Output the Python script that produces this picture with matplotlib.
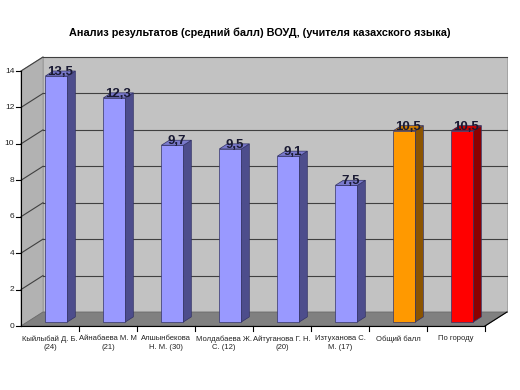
import matplotlib
matplotlib.use("Agg")
from matplotlib import pyplot as plt
from matplotlib.patches import Polygon

plt.rcParams['font.family'] = ['Liberation Sans', 'DejaVu Sans']

names = ["Кыйлыбай Д. Б.\n(24)", "Айнабаева М. М\n(21)", "Алшынбекова\nН. М. (30)",
         "Молдабаева Ж.\nС. (12)", "Айтуганова Г. Н.\n(20)", "Изтуханова С.\nМ. (17)",
         "Общий балл", "По городу"]
values = [13.5, 12.3, 9.7, 9.5, 9.1, 7.5, 10.5, 10.5]
labels = ["13,5", "12,3", "9,7", "9,5", "9,1", "7,5", "10,5", "10,5"]
fronts = ["#9999ff"] * 6 + ["#ff9900", "#ff0000"]
sides = ["#4d4d8c"] * 6 + ["#8c5400", "#8c0000"]
tops = ["#7a7acc"] * 6 + ["#cc7a00", "#cc0000"]
yticks = [0, 2, 4, 6, 8, 10, 12, 14]

W, H = 520, 390
fig = plt.figure(figsize=(W / 100, H / 100), dpi=100)
x0, x1, y0, y1 = 21, 485, 326, 71
ax = fig.add_axes([x0 / W, 1 - y0 / H, (x1 - x0) / W, (y0 - y1) / H])
n = len(values)
ymax = 14
ax.set_xlim(0, n)
ax.set_ylim(0, ymax)
ax.axis("off")

# depth offsets in data units
dx = 22 / ((x1 - x0) / n)
dy = 14 / ((y0 - y1) / ymax)

def poly(pts, fc, ec="none", lw=0.0, z=1):
    ax.add_patch(Polygon(pts, closed=True, facecolor=fc, edgecolor=ec, lw=lw, zorder=z, clip_on=False))

# walls and floor
poly([(dx, dy), (n + dx, dy), (n + dx, ymax + dy), (dx, ymax + dy)], "#c2c2c2", "#9a9a9a", 0.6)
poly([(0, 0), (dx, dy), (dx, ymax + dy), (0, ymax)], "#b2b2b2", "#9a9a9a", 0.6)
poly([(0, 0), (n, 0), (n + dx, dy), (dx, dy)], "#808080", "#6a6a6a", 0.6)

for t in yticks[1:]:
    ax.plot([dx, n + dx], [t + dy, t + dy], color="#404040", lw=0.8, zorder=2, clip_on=False)
    ax.plot([0, dx], [t, t + dy], color="#404040", lw=0.8, zorder=2, clip_on=False)

# axes lines
ax.plot([0, 0], [0, ymax], color="black", lw=0.8, zorder=3, clip_on=False)
ax.plot([0, n], [0, 0], color="black", lw=0.8, zorder=3, clip_on=False)
ax.plot([n, n + dx], [0, dy], color="black", lw=0.8, zorder=3, clip_on=False)
tlx = 5 / ((x1 - x0) / n)
tly = 5 / ((y0 - y1) / ymax)
for t in yticks:
    ax.plot([-tlx, 0], [t, t], color="black", lw=0.8, clip_on=False)
    ax.text(-tlx - 0.03, t, str(t), ha="right", va="center", fontsize=6, color="#222222")
for i in range(1, n + 1):
    ax.plot([i, i], [0, -tly], color="black", lw=0.8, clip_on=False)
for i, nm in enumerate(names):
    ax.text(i + 0.5, -0.5, nm, ha="center", va="top", fontsize=5.5, color="#222222",
            linespacing=1.35)

# bars
bw = 0.38
d1, d2 = 0.29, 0.65
for i, v in enumerate(values):
    bx = i + 0.5 - bw / 2 + d1 * dx
    by = d1 * dy
    ex, ey = (d2 - d1) * dx, (d2 - d1) * dy
    top = by + v
    poly([(bx, by), (bx + bw, by), (bx + bw, top), (bx, top)], fronts[i], "#333366", 0.5, 5)
    poly([(bx + bw, by), (bx + bw + ex, by + ey), (bx + bw + ex, top + ey), (bx + bw, top)],
         sides[i], "#333366", 0.5, 5)
    poly([(bx, top), (bx + bw, top), (bx + bw + ex, top + ey), (bx + ex, top + ey)],
         tops[i], "#333366", 0.5, 5)
    ax.text(bx + (bw + ex) / 2, top + 0.05, labels[i], ha="center", va="baseline",
            fontsize=9.5, fontweight="bold", color="#1a1a33", zorder=6)

fig.text(0.5, 1 - 33 / H, "Анализ результатов (средний балл) ВОУД, (учителя казахского языка)",
         ha="center", va="center", fontsize=7.8, fontweight="bold")

fig.savefig("out.png", dpi=100)
